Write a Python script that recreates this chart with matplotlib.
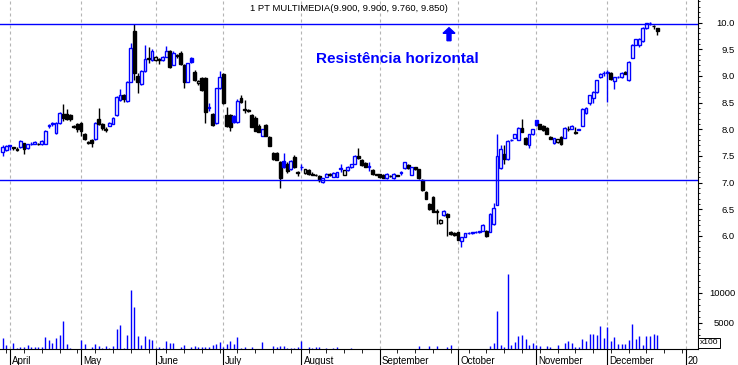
import numpy as np
import matplotlib
matplotlib.use('Agg')
import matplotlib.pyplot as plt
from matplotlib.patches import FancyArrow
from matplotlib.ticker import MultipleLocator, FixedLocator

plt.rcParams['font.family'] = ['Liberation Sans', 'DejaVu Sans']

# daily OHLC (Apr .. Dec)
opens = [7.58, 7.61, 7.68, 7.66, 7.62, 7.66, 7.74, 7.65, 7.72, 7.73, 7.73, 7.72, 7.73, 8.06, 8.09, 7.93, 8.12, 8.28, 8.28, 8.27, 8.06, 8.10,
         8.12, 7.91, 7.76, 7.80, 7.82, 8.20, 8.10, 7.98, 8.07, 8.10, 8.26, 8.55, 8.64, 8.54, 8.89, 9.84, 9.00, 8.85, 9.10, 9.33, 9.30,
         9.30, 9.31, 9.30, 9.36, 9.46, 9.21, 9.39, 9.44, 9.21, 8.89, 9.33, 9.08, 8.86, 8.96, 8.96, 8.40, 8.28, 8.12, 8.77,
         9.04, 8.27, 8.27, 8.24, 8.14, 8.59, 8.38, 8.36, 8.27, 8.22, 8.07, 7.88, 8.08, 7.86, 7.56, 7.56, 7.38, 7.40, 7.34, 7.25, 7.48, 7.19,
         7.29, 7.18, 7.23, 7.17, 7.15, 7.13, 7.02, 7.11, 7.16, 7.11, 7.11, 7.26, 7.15, 7.23, 7.29, 7.35, 7.50, 7.42, 7.37, 7.30, 7.23, 7.16,
         7.16, 7.15, 7.08, 7.13, 7.08, 7.14, 7.18, 7.27, 7.33, 7.15, 7.29, 7.25, 7.05, 6.83, 6.60, 6.73, 6.46, 6.24, 6.39, 6.41, 6.08, 6.06,
         6.07, 5.91, 5.98, 6.05, 6.06, 6.07, 6.08, 6.10, 6.10, 6.08, 6.22, 6.58, 7.27, 7.53, 7.44, 7.79, 7.84, 7.80, 8.03, 7.84, 7.70, 7.91,
         8.17, 8.09, 8.07, 8.03, 7.86, 7.74, 7.76, 7.86, 7.84, 8.01, 8.01, 7.95, 7.99, 8.07, 8.30, 8.49, 8.58, 8.70, 8.98, 9.05,
         9.05, 9.06, 8.90, 8.98, 8.98, 9.08, 8.92, 9.34, 9.59, 9.59, 9.65, 9.90, 9.99, 9.94, 9.90]
highs = [7.70, 7.71, 7.71, 7.67, 7.66, 7.80, 7.75, 7.73, 7.76, 7.78, 7.74, 7.80, 7.98, 8.09, 8.13, 8.13, 8.32, 8.47, 8.39, 8.28, 8.08, 8.12,
         8.14, 7.93, 7.78, 7.81, 8.14, 8.40, 8.12, 8.05, 8.13, 8.23, 8.62, 8.75, 8.66, 8.90, 9.62, 9.98, 9.05, 9.12, 9.58, 9.55, 9.50,
         9.38, 9.33, 9.38, 9.56, 9.48, 9.46, 9.41, 9.46, 9.23, 9.25, 9.35, 9.12, 8.93, 8.98, 8.98, 8.50, 8.30, 8.78, 9.10,
         9.06, 8.42, 8.28, 8.26, 8.56, 8.65, 8.55, 8.38, 8.29, 8.24, 8.09, 8.01, 8.10, 7.88, 7.58, 7.58, 7.40, 7.55, 7.38, 7.42, 7.52, 7.22,
         7.35, 7.26, 7.25, 7.20, 7.17, 7.14, 7.09, 7.18, 7.18, 7.19, 7.20, 7.34, 7.24, 7.31, 7.35, 7.52, 7.65, 7.44, 7.38, 7.38, 7.25, 7.17,
         7.17, 7.16, 7.18, 7.14, 7.18, 7.15, 7.22, 7.39, 7.35, 7.30, 7.30, 7.26, 7.06, 6.84, 6.61, 6.74, 6.50, 6.31, 6.48, 6.43, 6.09, 6.07,
         6.08, 5.98, 6.06, 6.08, 6.08, 6.10, 6.10, 6.22, 6.11, 6.42, 6.62, 7.91, 7.70, 7.70, 7.79, 7.82, 7.92, 8.04, 8.20, 7.86, 7.92, 8.01,
         8.18, 8.10, 8.08, 8.04, 7.87, 7.84, 7.82, 7.87, 8.04, 8.07, 8.08, 8.05, 8.01, 8.40, 8.41, 8.65, 8.71, 8.93, 9.05, 9.10,
         9.12, 9.07, 8.99, 9.00, 9.07, 9.09, 9.28, 9.60, 9.70, 9.72, 9.91, 10.00, 10.01, 9.96, 9.90]
lows = [7.50, 7.60, 7.62, 7.62, 7.60, 7.64, 7.54, 7.63, 7.70, 7.72, 7.70, 7.71, 7.72, 8.03, 8.07, 7.92, 8.10, 8.16, 8.18, 8.15, 8.03, 7.95,
        7.87, 7.80, 7.73, 7.66, 7.80, 8.08, 7.98, 7.95, 8.06, 8.09, 8.25, 8.54, 8.52, 8.52, 8.88, 8.92, 8.68, 8.84, 9.08, 9.25, 9.28,
        9.28, 9.22, 9.29, 9.35, 9.15, 9.20, 9.33, 9.20, 8.78, 8.88, 9.24, 8.90, 8.84, 8.72, 8.12, 8.35, 8.06, 8.10, 8.76,
        8.48, 8.05, 7.97, 8.12, 8.12, 8.49, 8.30, 8.33, 8.04, 7.96, 7.94, 7.87, 7.87, 7.68, 7.43, 7.42, 6.89, 7.28, 7.18, 7.24, 7.28, 7.12,
        7.24, 7.16, 7.15, 7.15, 7.12, 7.02, 7.00, 7.10, 7.13, 7.10, 7.10, 7.20, 7.14, 7.22, 7.28, 7.34, 7.45, 7.32, 7.29, 7.22, 7.15, 7.14,
        7.08, 7.08, 7.07, 7.10, 7.07, 7.12, 7.15, 7.26, 7.25, 7.14, 7.24, 7.07, 6.85, 6.69, 6.49, 6.44, 6.22, 6.23, 6.38, 6.00, 6.02, 6.00,
        5.92, 5.80, 5.97, 6.03, 6.04, 6.05, 6.06, 6.09, 5.98, 6.07, 6.21, 6.57, 7.26, 7.35, 7.43, 7.78, 7.83, 7.79, 7.94, 7.70, 7.64, 7.90,
        8.06, 8.00, 7.97, 7.91, 7.81, 7.73, 7.75, 7.70, 7.83, 7.96, 8.00, 7.92, 7.98, 8.06, 8.29, 8.45, 8.50, 8.69, 8.97, 9.00,
        8.52, 8.93, 8.75, 8.97, 8.97, 9.03, 8.91, 9.33, 9.58, 9.55, 9.64, 9.89, 9.96, 9.88, 9.76]
closes = [7.66, 7.69, 7.70, 7.64, 7.63, 7.78, 7.63, 7.72, 7.73, 7.76, 7.72, 7.78, 7.97, 8.08, 8.11, 8.12, 8.31, 8.22, 8.20, 8.19, 8.05, 8.00,
          7.97, 7.82, 7.75, 7.74, 8.12, 8.10, 8.02, 8.01, 8.12, 8.22, 8.60, 8.64, 8.56, 8.89, 9.53, 9.05, 8.88, 9.10, 9.32, 9.31, 9.46,
          9.35, 9.30, 9.36, 9.47, 9.17, 9.44, 9.38, 9.23, 8.89, 9.25, 9.27, 8.92, 8.90, 8.74, 8.32, 8.42, 8.08, 8.77, 8.98,
          8.50, 8.07, 8.05, 8.14, 8.54, 8.51, 8.37, 8.35, 8.05, 7.97, 7.95, 8.00, 7.88, 7.69, 7.44, 7.43, 7.08, 7.30, 7.22, 7.40, 7.30, 7.18,
          7.30, 7.25, 7.16, 7.15, 7.14, 7.04, 7.08, 7.17, 7.15, 7.18, 7.19, 7.27, 7.23, 7.30, 7.34, 7.50, 7.46, 7.33, 7.30, 7.31, 7.16, 7.15,
          7.10, 7.09, 7.17, 7.12, 7.17, 7.13, 7.19, 7.38, 7.27, 7.29, 7.25, 7.08, 6.86, 6.70, 6.50, 6.45, 6.44, 6.30, 6.47, 6.35, 6.03, 6.02,
          5.93, 5.97, 6.05, 6.06, 6.07, 6.08, 6.09, 6.20, 5.99, 6.41, 6.52, 7.49, 7.63, 7.44, 7.78, 7.80, 7.91, 8.03, 7.95, 7.72, 7.91, 8.00,
          8.08, 8.01, 7.98, 7.92, 7.82, 7.83, 7.81, 7.72, 8.03, 8.00, 8.07, 7.93, 8.00, 8.39, 8.40, 8.64, 8.70, 8.92, 9.04, 9.06,
          9.07, 8.94, 8.98, 8.99, 9.06, 9.04, 9.27, 9.59, 9.69, 9.70, 9.90, 9.99, 10.00, 9.93, 9.85]
# volume in hundreds
volumes = [2450, 1280, 200, 1620, 830, 950, 950, 1280, 950, 950, 950, 950, 2620, 2120, 1620, 2450, 2950, 5280, 1500, 830, 700, 700,
           2170, 1500, 200, 950, 1500, 1170, 830, 1170, 830, 1170, 3950, 4620, 830, 2950, 10500, 7670, 2840, 1280, 2840, 2280, 2120,
           830, 950, 830, 1950, 1620, 1620, 700, 950, 1280, 700, 950, 1060, 950, 950, 950, 950, 1280, 1500, 1840,
           950, 1500, 1950, 1500, 2620, 830, 950, 700, 950, 700, 700, 1840, 700, 700, 1170, 950, 1170, 1170, 830, 830, 830, 950,
           1950, 200, 950, 830, 950, 950, 200, 830, 200, 830, 950, 200, 200, 200, 830, 200, 200, 200, 200, 200, 400, 200,
           200, 400, 200, 200, 200, 200, 200, 700, 200, 200, 200, 1120, 700, 200, 1120, 700, 1120, 700, 200, 1000, 1330, 200,
           200, 400, 400, 200, 400, 200, 400, 700, 200, 1170, 1560, 6950, 1280, 950, 13120, 1280, 1780, 2840, 2950, 2280, 1330, 1620,
           1280, 1170, 200, 1170, 950, 200, 1280, 700, 1620, 1950, 1620, 950, 950, 2280, 1950, 3120, 3120, 2950, 4450, 2450,
           4280, 1950, 2620, 1500, 1450, 1450, 2120, 4780, 2280, 2780, 1280, 2780, 2780, 3120, 3000]

month_labels = ['April', 'May', 'June', 'July', 'August', 'September', 'October', 'November', 'December', '20']
month_starts = [2, 22, 43, 62, 84, 106, 128, 150, 170, 192]
resist_top = 9.97
resist_bottom = 7.04
title = '1 PT MULTIMEDIA(9.900, 9.900, 9.760, 9.850)'

BLUE = '#0000ff'
GRID = '#b4b4b4'
W, H = 738, 365

o = np.array(opens); h = np.array(highs); l = np.array(lows); c = np.array(closes)
days = np.arange(len(c))
prev = np.r_[c[0] - 1, c[:-1]]
cols = np.where(c > prev, BLUE, 'black')
faces = np.where(c >= o, 'white', cols)


def box(x0, y0, x1, y1):
    return [x0 / W, 1 - y1 / H, (x1 - x0) / W, (y1 - y0) / H]


fig = plt.figure(figsize=(W / 100, H / 100), dpi=100)
ax = fig.add_axes(box(0, 0, 698, 250))
axv = fig.add_axes(box(0, 250, 698, 349), sharex=ax)

# candles
ax.vlines(days, l, h, colors=cols, lw=1.0, zorder=2)
ax.bar(days, np.maximum(np.abs(c - o), 0.004), bottom=np.minimum(o, c), width=0.8,
       color=faces, edgecolor=cols, linewidth=1.0, zorder=3)
ax.axhline(resist_top, color=BLUE, lw=1.0, zorder=4)
ax.axhline(resist_bottom, color=BLUE, lw=1.0, zorder=4)

# volume
axv.vlines(days, 0, volumes, colors=BLUE, lw=1.0, zorder=2)

for a in (ax, axv):
    for m in month_starts:
        a.axvline(m, color=GRID, lw=0.8, ls=(0, (2.7, 2.7)), zorder=0)
    a.spines['left'].set_visible(False)
    a.spines['top'].set_visible(False)
    a.spines['right'].set_linewidth(0.8)
    a.yaxis.tick_right()

ax.set_xlim(-0.76, 195.5)
ax.set_ylim(5.735, 10.426)
ax.spines['bottom'].set_visible(False)
ax.tick_params(axis='x', bottom=False, labelbottom=False)
ax.yaxis.set_major_locator(FixedLocator(np.arange(6.0, 10.01, 0.5)))
ax.yaxis.set_minor_locator(MultipleLocator(0.1))
ax.set_yticklabels(['%.1f' % v for v in np.arange(6.0, 10.01, 0.5)])
ax.tick_params(axis='y', which='major', length=2.9, width=0.8, pad=23.8, labelsize=6.8)
ax.tick_params(axis='y', which='minor', length=1.6, width=0.6)
for t in ax.get_yticklabels():
    t.set_horizontalalignment('right')

axv.set_ylim(617, 17117)
axv.spines['bottom'].set_linewidth(0.8)
axv.yaxis.set_major_locator(FixedLocator([5000, 10000]))
axv.yaxis.set_minor_locator(MultipleLocator(1000))
axv.set_yticklabels(['5000', '10000'])
axv.tick_params(axis='y', which='major', length=2.9, width=0.8, pad=23.8, labelsize=6.8)
axv.tick_params(axis='y', which='minor', length=1.6, width=0.6)
for t in axv.get_yticklabels():
    t.set_horizontalalignment('right')

axv.set_xticks(month_starts)
axv.set_xticks(np.arange(1, 193, 5), minor=True)
axv.tick_params(axis='x', which='major', length=11.5, width=0.8, labelbottom=False)
axv.tick_params(axis='x', which='minor', length=3, width=0.6)
for m, lab in zip(month_starts, month_labels):
    axv.annotate(lab, xy=(m, 0), xycoords=('data', 'axes fraction'), xytext=(1.5, -8.4),
                 textcoords='offset points', ha='left', va='center', fontsize=7)

fig.text(250 / W, 1 - 8.3 / H, title, fontsize=6.8, ha='left', va='center')
fig.text(316 / W, 1 - 62.7 / H, 'Resistência horizontal', fontsize=11, fontweight='bold',
         color=BLUE, ha='left', va='baseline')
fig.add_artist(FancyArrow(4.49, (H - 40.7) / 100, 0, 0.13, width=0.04, head_width=0.12,
                          head_length=0.056, length_includes_head=True, color=BLUE,
                          transform=fig.dpi_scale_trans))
fig.text(709 / W, 1 - 343 / H, 'x100', fontsize=6, ha='center', va='center',
         bbox=dict(boxstyle='square,pad=0.2', fc='white', ec='black', lw=0.7))

fig.savefig('out.png', dpi=100)
